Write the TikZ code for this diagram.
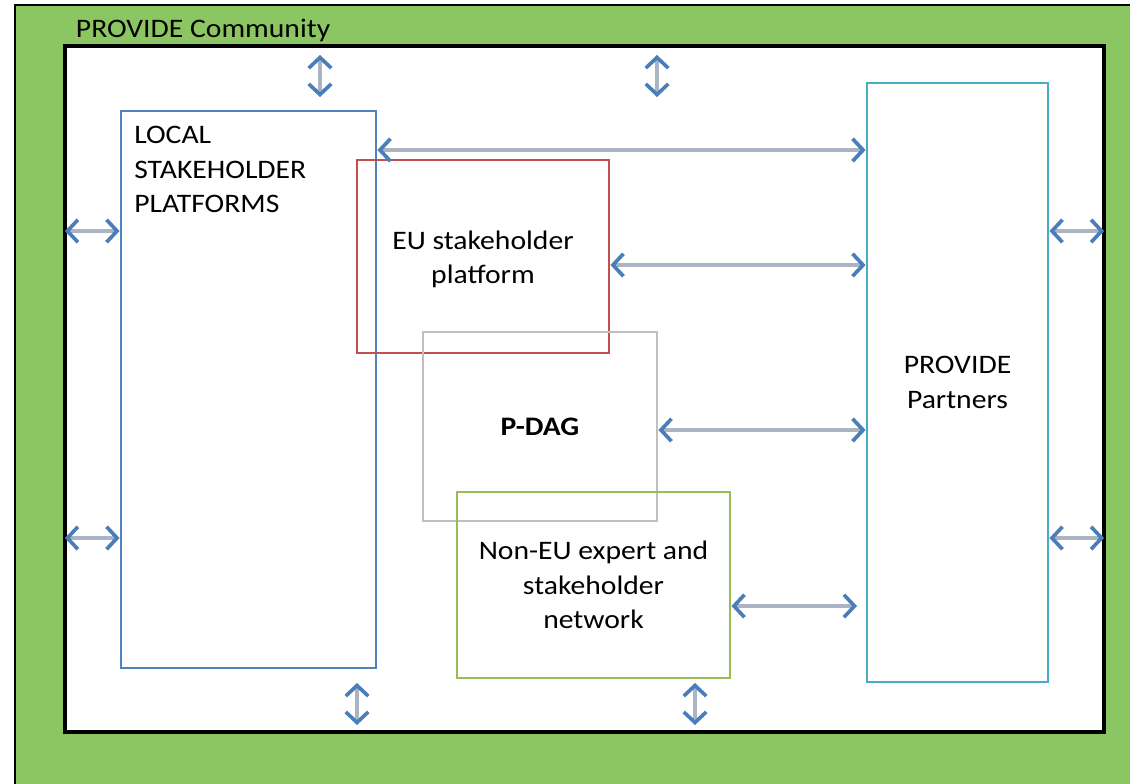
\documentclass[tikz,border=0pt]{standalone}
\usepackage{fontspec}
\setmainfont{Carlito}[FakeStretch=1.11]
\usetikzlibrary{arrows.meta,fit}
\definecolor{bggreen}{RGB}{140,198,99}
\definecolor{lspblue}{RGB}{79,129,189}
\definecolor{eured}{RGB}{192,80,77}
\definecolor{pdaggray}{RGB}{191,191,191}
\definecolor{nongreen}{RGB}{155,187,89}
\definecolor{partcyan}{RGB}{75,172,198}
\definecolor{shaft}{RGB}{170,180,195}
\definecolor{tipblue}{RGB}{74,126,187}
\tikzset{
  box/.style={draw, line width=2pt, inner sep=0pt, align=center, font=\fontsize{19}{24.5}\selectfont},
  link/.style={draw=shaft, line width=3pt,
    {Straight Barb[color=tipblue, line width=2.6pt, length=7.5pt, width=16pt]}-{Straight Barb[color=tipblue, line width=2.6pt, length=7.5pt, width=16pt]}}
}
\begin{document}
\begin{tikzpicture}[x=0.025cm, y=-0.025cm]
\useasboundingbox (0,0) rectangle (1130,783);
\clip (0,0) rectangle (1130,783);
% community background
\fill[white] (0,0) rectangle (1130,783);
\filldraw[fill=bggreen, draw=black, line width=1.4pt] (15,5) rectangle (1150,800);
\node[draw=black, fill=white, line width=2.2pt, inner sep=0pt, fit={(65,46) (1104,732)}] (frame) {};
\node[anchor=west, font=\fontsize{19}{24.5}\selectfont] (commlabel) at (71,30) {PROVIDE Community};
% boxes
\node[box, draw=lspblue, fit={(121,111) (376,668)}] (local) {};
\node[anchor=north west, align=left, font=\fontsize{19}{24.5}\selectfont, inner sep=0pt] (loctext) at (134,126) {LOCAL\\STAKEHOLDER\\PLATFORMS};
\node[box, draw=eured, fit={(357,160) (609,353)}] (eu) {};
\node[align=center, font=\fontsize{19}{24.5}\selectfont] (eutext) at ([yshift=-2pt]eu.center) {EU stakeholder\\platform};
\node[box, draw=pdaggray, fit={(423,332) (657,521)}] (pdag) {};
\node[font=\fontsize{19}{24.5}\selectfont\bfseries] (pdagtext) at (pdag.center) {P-DAG};
\node[box, draw=nongreen, fit={(457,492) (730,678)}] (noneu) {};
\node[align=center, font=\fontsize{19}{24.5}\selectfont] (nontext) at (noneu.center) {Non-EU expert and\\stakeholder\\network};
\node[box, draw=partcyan, fit={(867,83) (1048,682)}] (partners) {};
\node[align=center, font=\fontsize{19}{24.5}\selectfont] (parttext) at (partners.center) {PROVIDE\\Partners};
% free ends
\coordinate (up1a) at (320,55);
\coordinate (up1b) at (320,97);
\coordinate (up2a) at (657,55);
\coordinate (up2b) at (657,97);
\coordinate (dn1a) at (357,683);
\coordinate (dn1b) at (357,725);
\coordinate (dn2a) at (695,683);
\coordinate (dn2b) at (695,725);
\coordinate (nonend) at (857,606);
% connectors
\draw[link] (up1a) -- (up1b);
\draw[link] (up2a) -- (up2b);
\draw[link] (dn1a) -- (dn1b);
\draw[link] (dn2a) -- (dn2b);
\draw[link] (local.east |- 0,150) -- (partners.west |- 0,150);
\draw[link] (eu.east |- 0,265) -- (partners.west |- 0,265);
\draw[link] (pdag.east |- 0,430) -- (partners.west |- 0,430);
\draw[link] (noneu.east |- 0,606) -- (nonend);
\draw[link] ([xshift=1pt]frame.west |- 0,231) -- (local.west |- 0,231);
\draw[link] ([xshift=1pt]frame.west |- 0,538) -- (local.west |- 0,538);
\draw[link] (partners.east |- 0,231) -- ([xshift=-1pt]frame.east |- 0,231);
\draw[link] (partners.east |- 0,538) -- ([xshift=-1pt]frame.east |- 0,538);
\end{tikzpicture}
\end{document}
